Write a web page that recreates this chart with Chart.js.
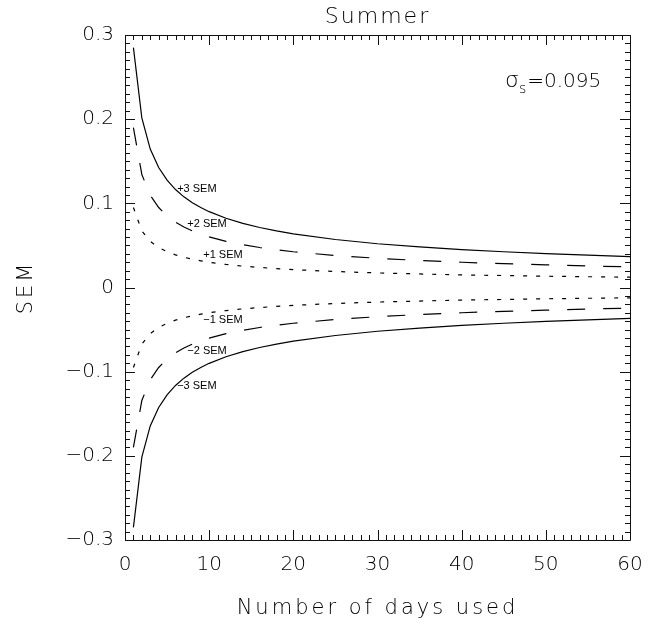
<!DOCTYPE html>
<html>
<head>
<meta charset="utf-8">
<script src="https://cdn.jsdelivr.net/npm/chart.js@4"></script>
<style>
  html, body { margin: 0; padding: 0; background: #fff; }
  canvas { display: block; }
</style>
</head>
<body>
<canvas id="sem" width="654" height="625"></canvas>
<script>
// days used and the SEM envelopes (1, 2 and 3 standard errors)
const days = [1, 2, 3, 4, 5, 6, 7, 8, 9, 10, 12, 14, 16, 18, 20, 25, 30, 35, 40, 45, 50, 55, 60];
const plus3 = [0.285, 0.2015, 0.1645, 0.1425, 0.1275, 0.1164, 0.1077, 0.1008, 0.095, 0.0901, 0.0823, 0.0762, 0.0713, 0.0672, 0.0637, 0.057, 0.052, 0.0482, 0.0451, 0.0425, 0.0403, 0.0384, 0.0368];
const plus2 = [0.19, 0.1343, 0.1097, 0.095, 0.085, 0.0776, 0.0718, 0.0672, 0.0633, 0.0601, 0.0548, 0.0508, 0.0475, 0.0448, 0.0425, 0.038, 0.0347, 0.0321, 0.03, 0.0283, 0.0269, 0.0256, 0.0245];
const plus1 = [0.095, 0.0672, 0.0548, 0.0475, 0.0425, 0.0388, 0.0359, 0.0336, 0.0317, 0.03, 0.0274, 0.0254, 0.0238, 0.0224, 0.0212, 0.019, 0.0173, 0.0161, 0.015, 0.0142, 0.0134, 0.0128, 0.0123];
const minus1 = [-0.095, -0.0672, -0.0548, -0.0475, -0.0425, -0.0388, -0.0359, -0.0336, -0.0317, -0.03, -0.0274, -0.0254, -0.0238, -0.0224, -0.0212, -0.019, -0.0173, -0.0161, -0.015, -0.0142, -0.0134, -0.0128, -0.0123];
const minus2 = [-0.19, -0.1343, -0.1097, -0.095, -0.085, -0.0776, -0.0718, -0.0672, -0.0633, -0.0601, -0.0548, -0.0508, -0.0475, -0.0448, -0.0425, -0.038, -0.0347, -0.0321, -0.03, -0.0283, -0.0269, -0.0256, -0.0245];
const minus3 = [-0.285, -0.2015, -0.1645, -0.1425, -0.1275, -0.1164, -0.1077, -0.1008, -0.095, -0.0901, -0.0823, -0.0762, -0.0713, -0.0672, -0.0637, -0.057, -0.052, -0.0482, -0.0451, -0.0425, -0.0403, -0.0384, -0.0368];

// curve annotations
const curveLabels = ["+3 SEM", "+2 SEM", "+1 SEM", "\u22121 SEM", "\u22122 SEM", "\u22123 SEM"];
const curveLabelDays = [6.2, 7.4, 9.3, 9.3, 7.4, 6.2];
const curveLabelValues = [0.117, 0.0756, 0.0387, -0.0387, -0.0756, -0.117];

const xTicks = [0, 10, 20, 30, 40, 50, 60];
const yTicks = [-0.3, -0.2, -0.1, 0, 0.1, 0.2, 0.3];

const ink = "#000";
const labelFont = "'DejaVu Sans', sans-serif";

const line = (values, dash) => ({
  data: days.map((d, i) => ({ x: d, y: values[i] })),
  borderColor: "#000",
  borderWidth: 1.2,
  borderDash: dash,
  pointRadius: 0,
  tension: 0,
  fill: false,
});

// box with inward ticks on all four sides, plus all the free text
const framePlugin = {
  id: "frame",
  afterDatasetsDraw(chart) {
    const { ctx, chartArea: a, scales: { x, y } } = chart;
    ctx.save();
    ctx.strokeStyle = "#111";
    ctx.lineWidth = 1;
    ctx.beginPath();
    ctx.rect(a.left + 0.5, a.top + 0.5, a.right - a.left, a.bottom - a.top);
    for (let i = 0; i <= 60; i++) {
      const px = Math.round(x.getPixelForValue(i)) + 0.5;
      const len = i % 10 === 0 ? 10 : 5;
      ctx.moveTo(px, a.bottom); ctx.lineTo(px, a.bottom - len);
      ctx.moveTo(px, a.top); ctx.lineTo(px, a.top + len);
    }
    for (let i = -30; i <= 30; i++) {
      const py = Math.round(y.getPixelForValue(i / 100)) + 0.5;
      const len = i % 10 === 0 ? 10 : 5;
      ctx.moveTo(a.left, py); ctx.lineTo(a.left + len, py);
      ctx.moveTo(a.right, py); ctx.lineTo(a.right - len, py);
    }
    ctx.stroke();

    // curve names
    ctx.fillStyle = "#000";
    ctx.font = "11px 'Liberation Sans', sans-serif";
    ctx.textAlign = "left";
    ctx.textBaseline = "middle";
    curveLabels.forEach((t, i) => {
      ctx.fillText(t, x.getPixelForValue(curveLabelDays[i]), y.getPixelForValue(curveLabelValues[i]));
    });

    ctx.fillStyle = ink;
    ctx.letterSpacing = "2px";
    ctx.textAlign = "center";
    ctx.textBaseline = "middle";
    const cx = (a.left + a.right) / 2;
    ctx.font = "200 22px " + labelFont;
    ctx.fillText("Summer", cx, 17);
    ctx.font = "200 21px " + labelFont;
    ctx.letterSpacing = "3px";
    ctx.fillText("Number of days used", cx, 609);
    ctx.save();
    ctx.translate(27, (a.top + a.bottom) / 2);
    ctx.rotate(-Math.PI / 2);
    ctx.fillText("SEM", 0, 0);
    ctx.restore();

    // sigma annotation
    ctx.letterSpacing = "0px";
    ctx.textAlign = "left";
    ctx.textBaseline = "alphabetic";
    let tx = 505;
    ctx.font = "200 22px " + labelFont;
    ctx.fillText("\u03c3", tx, 87);
    tx += ctx.measureText("\u03c3").width;
    ctx.font = "200 14px " + labelFont;
    ctx.fillText("s", tx, 93);
    tx += ctx.measureText("s").width + 1;
    ctx.font = "200 20px " + labelFont;
    ctx.fillText("=0.095", tx, 87);
    ctx.restore();
  },
};

new Chart(document.getElementById("sem"), {
  type: "line",
  data: {
    datasets: [
      line(plus3, []),
      line(plus2, [18, 18]),
      line(plus1, [4, 9]),
      line(minus1, [4, 9]),
      line(minus2, [18, 18]),
      line(minus3, []),
    ],
  },
  options: {
    responsive: false,
    animation: false,
    layout: { padding: { top: 35, right: 24, left: 0, bottom: 0 } },
    plugins: { legend: { display: false }, tooltip: { enabled: false } },
    scales: {
      x: {
        type: "linear",
        min: 0,
        max: 60,
        afterFit: (s) => { s.height = 85; },
        afterBuildTicks: (s) => { s.ticks = xTicks.map((v) => ({ value: v })); },
        grid: { display: false },
        border: { display: false },
        ticks: { color: ink, font: { family: labelFont, size: 20, weight: 200 }, padding: 5, maxRotation: 0 },
      },
      y: {
        type: "linear",
        min: -0.3,
        max: 0.3,
        afterFit: (s) => { s.width = 125; },
        afterBuildTicks: (s) => { s.ticks = yTicks.map((v) => ({ value: v })); },
        grid: { display: false },
        border: { display: false },
        ticks: {
          color: ink,
          font: { family: labelFont, size: 20, weight: 200 },
          padding: 3,
          callback: (v) => (Math.abs(v) < 1e-9 ? "0" : (v < 0 ? "\u2212" : "") + Math.abs(v).toFixed(1)),
        },
      },
    },
  },
  plugins: [framePlugin],
});
</script>
</body>
</html>
